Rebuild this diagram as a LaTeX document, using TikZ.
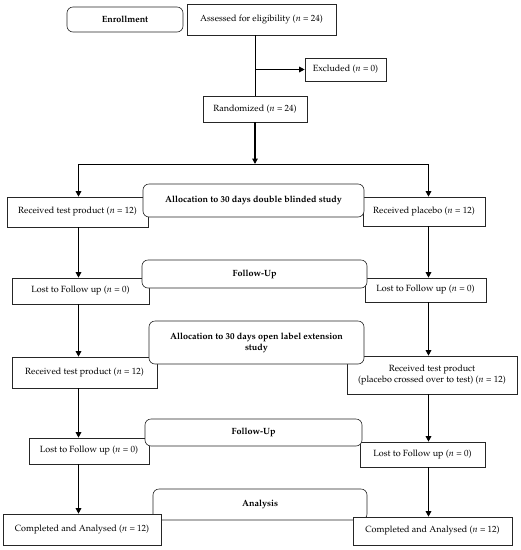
\documentclass[tikz,border=0pt]{standalone}
\usepackage[T1]{fontenc}
\usepackage{mathpazo}
\usetikzlibrary{arrows.meta,calc}
\tikzset{
  sq/.style={draw=black!85, line width=0.6pt, fill=white, inner sep=0pt, align=center,
             font=\fontsize{9}{11}\selectfont},
  rnd/.style={sq, rounded corners=6pt, font=\fontsize{9}{11}\selectfont\bfseries},
  arr/.style={line width=1.3pt, -{Triangle[length=5.5pt,width=5.5pt]}},
  ln/.style={line width=1pt},
}
\begin{document}
\begin{tikzpicture}[x=1pt,y=-1pt]
\useasboundingbox (0,0) rectangle (521,550);
% back rounded box
\node[rnd, minimum width=214pt, minimum height=31pt] (ana) at (260,504.5) {\raisebox{1.5pt}{Analysis}};
% plain boxes
\node[sq, minimum width=149pt, minimum height=31pt] (ass) at (261.5,19.5) {Assessed for eligibility ($n$ = 24)};
\node[sq, minimum width=81pt, minimum height=23pt] (exc) at (345.5,69.5) {Excluded ($n$ = 0)};
\node[sq, minimum width=104pt, minimum height=26pt] (ran) at (255,109) {Randomized ($n$ = 24)};
\node[sq, minimum width=141pt, minimum height=30pt] (recL) at (77.5,212) {Received test product ($n$ = 12)};
\node[sq, minimum width=122pt, minimum height=29pt] (plaR) at (424,211.5) {Received placebo ($n$ = 12)};
\node[sq, minimum width=137pt, minimum height=26pt] (lostLa) at (80.5,291) {Lost to Follow up ($n$ = 0)};
\node[sq, minimum width=121pt, minimum height=24pt] (lostRa) at (425.5,290) {Lost to Follow up ($n$ = 0)};
\node[sq, minimum width=145pt, minimum height=31pt] (recL2) at (84.5,372.5) {Received test product ($n$ = 12)};
\node[sq, minimum width=170pt, minimum height=38pt] (recR2) at (432,375) {Received test product\\(placebo crossed over to test) ($n$ = 12)};
\node[sq, minimum width=120pt, minimum height=26pt] (lostLb) at (89,451) {Lost to Follow up ($n$ = 0)};
\node[sq, minimum width=125pt, minimum height=25pt] (lostRb) at (422.5,454.5) {Lost to Follow up ($n$ = 0)};
\node[sq, minimum width=158pt, minimum height=31pt] (compL) at (82,529.5) {Completed and Analysed ($n$ = 12)};
\node[sq, minimum width=159pt, minimum height=28pt] (compR) at (432.5,531) {Completed and Analysed ($n$ = 12)};
% front rounded boxes
\node[rnd, minimum width=116pt, minimum height=25pt] (enr) at (125,19.5) {Enrollment};
\node[rnd, minimum width=221pt, minimum height=33pt] (allA) at (253.5,200.5) {Allocation to 30 days double blinded study};
\node[rnd, minimum width=225pt, minimum height=28pt] (fuA) at (254.5,274) {Follow-Up};
\node[rnd, minimum width=215pt, minimum height=43pt] (allB) at (256.5,342.5) {Allocation to 30 days open label extension\\study};
\node[rnd, minimum width=217pt, minimum height=27pt] (fuB) at (253.5,432.5) {Follow-Up};
% column coordinates
\coordinate (trunk) at (255,0);
\coordinate (colL) at (78.5,0);
\coordinate (colR) at (428.5,0);
\coordinate (split) at (255,164);
\coordinate (exJ) at (255,69.5);
% connectors
\draw[ln] (ass.south -| trunk) -- (ran.north -| trunk);
\draw[arr] (exJ) -- (exc.west);
\draw[arr] (ran.south -| trunk) -- (split);
\draw[ln] (split -| colL) -- (split -| colR);
\draw[arr] (split -| colL) -- (recL.north -| colL);
\draw[arr] (split -| colR) -- (plaR.north -| colR);
\draw[arr] (recL.south -| colL) -- (lostLa.north -| colL);
\draw[arr] (plaR.south -| colR) -- (lostRa.north -| colR);
\draw[arr] (lostLa.south -| colL) -- (recL2.north -| colL);
\draw[arr] (lostRa.south -| colR) -- (recR2.north -| colR);
\draw[arr] (recL2.south -| colL) -- (lostLb.north -| colL);
\draw[arr] (recR2.south -| colR) -- (lostRb.north -| colR);
\draw[arr] (lostLb.south -| colL) -- (compL.north -| colL);
\draw[arr] (lostRb.south -| colR) -- (compR.north -| colR);
\end{tikzpicture}
\end{document}
